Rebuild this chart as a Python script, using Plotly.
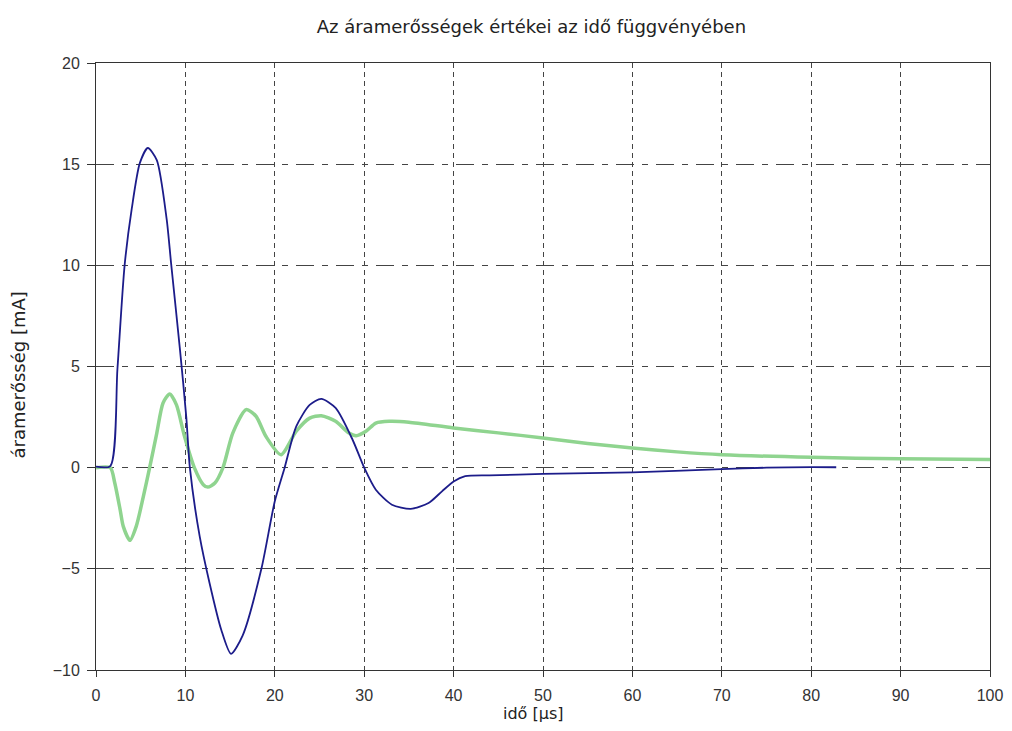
import plotly.graph_objects as go

# Blue series (current 1)
blue_t = [0, 1.6, 2.4, 3.2, 4.0, 4.9, 5.8, 6.8, 7.9, 8.4, 9.4, 10.1, 10.5, 11.6, 12.7, 14.0, 15.1, 16.4,
          18.5, 20.0, 21.1, 22.4, 23.9, 25.2, 26.8, 28.7, 30.0, 31.3, 33.1, 35.2, 37.2, 38.7, 40.0, 41.3,
          44, 50, 60, 70, 75, 80, 82.8]
blue_i = [0.05, 0.08, 4.9, 10.0, 12.8, 15.05, 15.8, 15.2, 12.3, 10.1, 5.8, 2.5, 0, -3.4, -5.7, -8.0, -9.2, -8.3,
          -5.0, -1.66, 0, 2.04, 3.1, 3.4, 2.95, 1.38, 0, -1.09, -1.83, -2.04, -1.75, -1.17, -0.68, -0.42,
          -0.38, -0.31, -0.23, -0.07, 0, 0.03, 0.02]

# Green series (current 2)
green_t = [0, 1.6, 2.1, 2.7, 3.05, 3.8, 4.5, 5.3, 6.0, 6.8, 7.5, 8.25, 9.0, 9.9, 11.0, 12.0, 12.5, 13.3,
           14.2, 15.3, 16.8, 17.9, 19.0, 20.7, 22.4, 23.9, 25.2, 26.8, 28.3, 29.1, 30.2, 31.3, 32.8,
           35, 40, 45, 50, 55, 60, 65, 70, 80, 90, 100]
green_i = [0, 0, -0.76, -2.08, -2.9, -3.59, -2.9, -1.42, 0, 1.71, 3.2, 3.64, 3.1, 1.55, 0, -0.84, -0.96, -0.76,
           0, 1.71, 2.87, 2.54, 1.55, 0.64, 1.8, 2.45, 2.57, 2.29, 1.71, 1.58, 1.8, 2.2, 2.29,
           2.25, 1.96, 1.72, 1.47, 1.2, 0.97, 0.78, 0.64, 0.51, 0.44, 0.40]

x_ticks = [0, 10, 20, 30, 40, 50, 60, 70, 80, 90, 100]
y_ticks = [-10, -5, 0, 5, 10, 15, 20]

title_text = "Az áramerősségek értékei az idő függvényében"
x_title = "idő [μs]"
y_title = "áramerősség [mA]"

fig = go.Figure()
fig.add_trace(go.Scatter(x=green_t, y=green_i, mode="lines",
                         line=dict(color="#8fd48f", width=3.5, shape="spline", smoothing=0.7),
                         showlegend=False))
fig.add_trace(go.Scatter(x=blue_t, y=blue_i, mode="lines",
                         line=dict(color="#1c1c8a", width=1.8, shape="spline", smoothing=0.7),
                         showlegend=False))

tick_font = "Liberation Sans, Arial, sans-serif"
text_font = "DejaVu Sans, Verdana, sans-serif"

W, H = 996, 715
fig.update_layout(
    width=W, height=H,
    margin=dict(l=88, r=14, t=55, b=53, autoexpand=False),
    paper_bgcolor="white", plot_bgcolor="white",
    font=dict(family=tick_font, size=16, color="#333333"),
    title=dict(text=title_text, x=0.487, xanchor="center", y=1 - 19 / H, yanchor="middle",
               xref="paper", yref="container",
               font=dict(family=text_font, size=18, color="#222222")),
    annotations=[
        dict(text=x_title, xref="paper", yref="paper", x=0.489, y=0, yshift=-43,
             xanchor="center", yanchor="middle", showarrow=False,
             font=dict(family=text_font, size=16, color="#222222")),
        dict(text=y_title, xref="paper", yref="paper", x=0, y=0.5, xshift=-78, yshift=-9,
             xanchor="center", yanchor="middle", textangle=-90, showarrow=False,
             font=dict(family=text_font, size=18, color="#222222")),
    ],
)

fig.update_xaxes(
    range=[0, 100], tickvals=x_ticks, ticks="outside", ticklen=6, tickcolor="#333",
    showline=True, linecolor="#333", linewidth=1, mirror=True,
    showgrid=True, gridcolor="#444", gridwidth=1.2, griddash="5px,4px",
    zeroline=False, automargin=False, ticklabelstandoff=5, ticklabeloverflow="allow",
    tickfont=dict(size=16, color="#333"),
)
fig.update_yaxes(
    range=[-10, 20], tickvals=y_ticks, ticks="outside", ticklen=8, tickcolor="#333",
    showline=True, linecolor="#333", linewidth=1, mirror=True,
    showgrid=True, gridcolor="#444", gridwidth=1.2, griddash="18px,8px,6px,8px",
    zeroline=False, automargin=False, ticklabelstandoff=4,
    tickfont=dict(size=16, color="#333"),
)

fig.write_html("out.html")
